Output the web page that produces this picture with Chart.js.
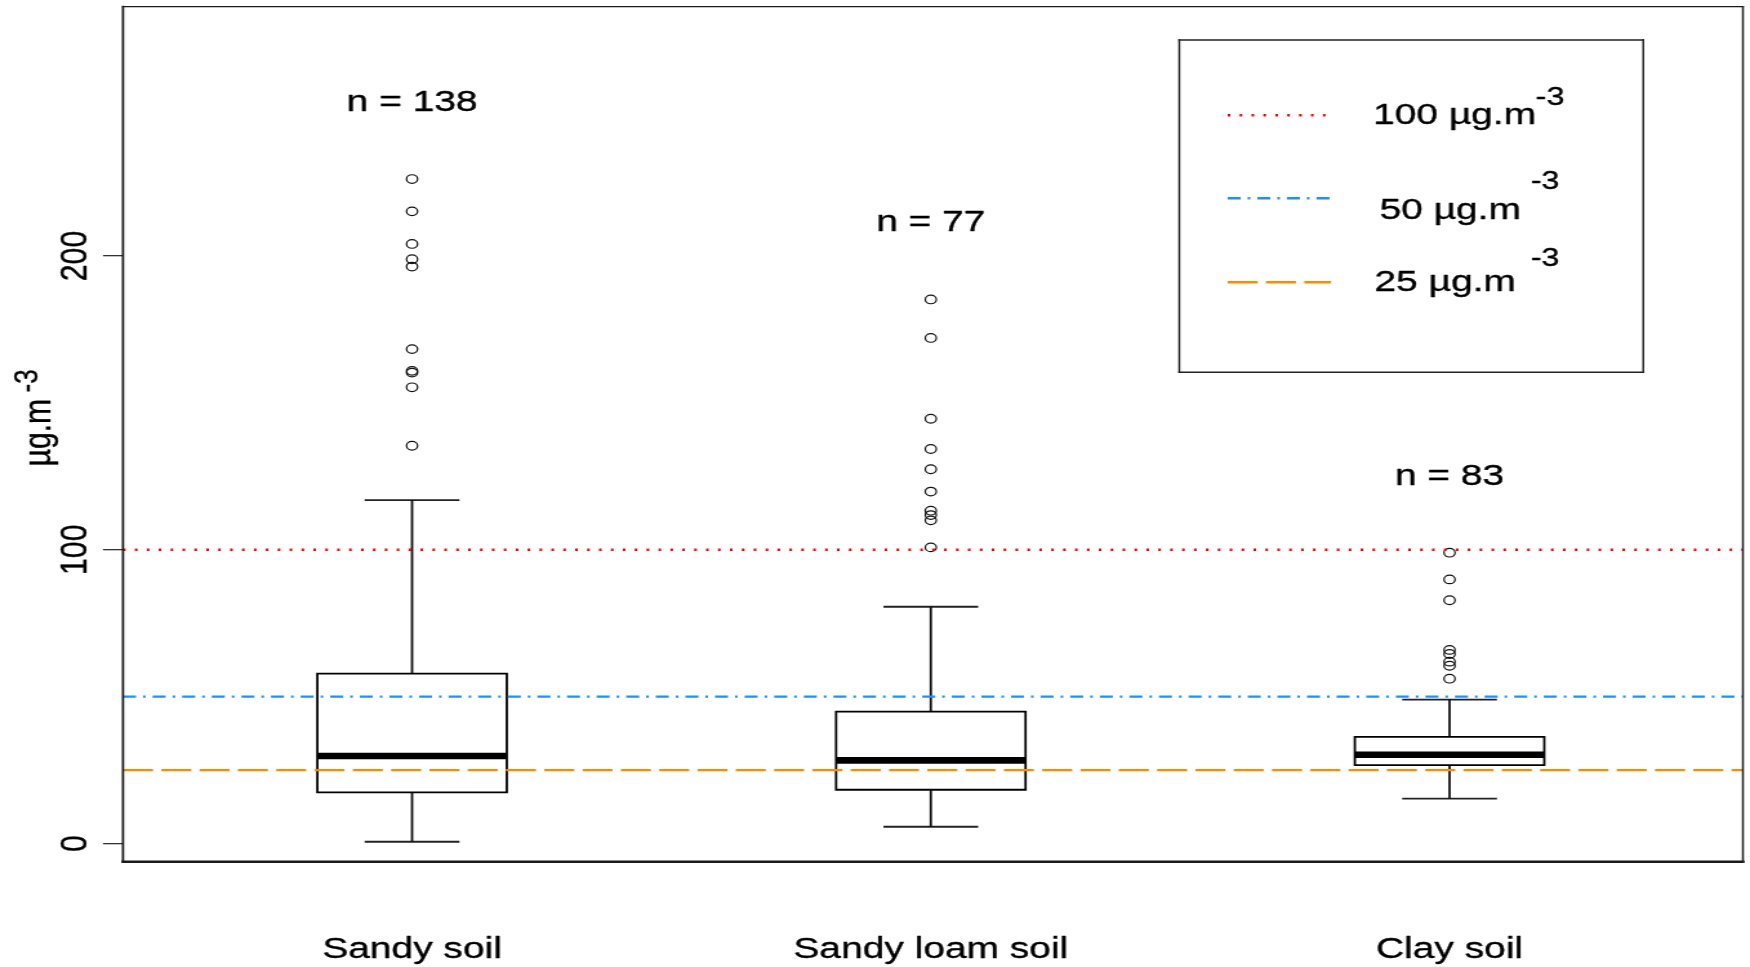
<!DOCTYPE html>
<html>
<head>
<meta charset="utf-8">
<script src="https://cdn.jsdelivr.net/npm/chart.js@4/dist/chart.umd.min.js"></script>
<style>
  html, body { margin: 0; padding: 0; background: #ffffff; }
  #chart { display: block; }
</style>
</head>
<body>
<canvas id="chart" width="1357" height="967" style="width:1750px;height:967px;"></canvas>
<script>
// ---- data -------------------------------------------------------------
const categories   = ["Sandy soil", "Sandy loam soil", "Clay soil"];
const sampleSizes  = [138, 77, 83];
const lowerWhisker = [0.6, 5.7, 15.3];
const q1           = [17.4, 18.3, 26.7];
const median       = [29.8, 28.3, 30.2];
const q3           = [57.8, 44.9, 36.3];
const upperWhisker = [116.9, 80.6, 49.0];
const outliersSandy = [226.2, 215.2, 204.1, 198.9, 196.4, 168.3, 160.9, 160.3, 155.3, 135.4];
const outliersLoam  = [185.2, 172.1, 144.6, 134.3, 127.4, 119.8, 113.3, 111.8, 110.0, 100.8];
const outliersClay  = [99.0, 89.9, 82.8, 65.9, 64.5, 61.9, 60.5, 56.1];
const limitValues  = [100, 50, 25];
const limitLabels  = ["100 µg.m", "50 µg.m", "25 µg.m"];
const unitExponent = "-3";
const yTicks       = [0, 100, 200];
const yTitle       = "µg.m";

// ---- geometry ---------------------------------------------------------
// The canvas is 1357 px wide and shown 1750 px wide, so the whole figure is
// stretched horizontally; px() converts a screen x distance to canvas units.
const CANVAS_W = 1357, CANVAS_H = 967;
const SX = CANVAS_W / 1750;
const px = v => v * SX;
const FONT = '"Liberation Sans", Arial, Helvetica, sans-serif';
const TEXT_SIZE = 30.2;
const X_MIN = 0.4428, X_MAX = 3.5655;
const Y_MIN = -6.2, Y_MAX = 284.87;
const BOX_HALF = 0.1826, CAP_HALF = 0.0913;

const outliers = [outliersSandy, outliersLoam, outliersClay];

const limitStyles = [
  { color: "#f00000", dash: [px(2.6), px(9.3)] },                // dotted
  { color: "#1e90ff", dash: [px(13), px(7), px(2.6), px(7)] },   // dot-dash
  { color: "#ff8a00", dash: [px(30), px(8.3)] }                  // dashed
];

function lineSet(data, color, width, dash, cap) {
  return {
    type: "scatter", data, showLine: true,
    borderColor: color, borderWidth: width, borderDash: dash || [],
    borderCapStyle: cap || "butt", borderJoinStyle: "miter",
    pointRadius: 0, pointHoverRadius: 0, fill: false, tension: 0
  };
}

const datasets = [];

// guideline values across the whole plot
limitValues.forEach((v, k) => {
  datasets.push(lineSet([{ x: X_MIN, y: v }, { x: X_MAX, y: v }],
    limitStyles[k].color, 2.3, limitStyles[k].dash));
});

// one box-and-whisker per soil type
categories.forEach((name, i) => {
  const c = i + 1;
  const L = c - BOX_HALF, R = c + BOX_HALF;
  datasets.push(lineSet([
    { x: L, y: q1[i] }, { x: R, y: q1[i] }, { x: R, y: q3[i] },
    { x: L, y: q3[i] }, { x: L, y: q1[i] }
  ], "#000", 1.8, [], "square"));
  datasets.push(lineSet([{ x: L, y: median[i] }, { x: R, y: median[i] }], "#000", 6.6));
  datasets.push(lineSet([{ x: c, y: q3[i] }, { x: c, y: upperWhisker[i] }], "#111", 1.8));
  datasets.push(lineSet([{ x: c, y: q1[i] }, { x: c, y: lowerWhisker[i] }], "#111", 1.8));
  datasets.push(lineSet([{ x: c - CAP_HALF, y: upperWhisker[i] }, { x: c + CAP_HALF, y: upperWhisker[i] }], "#222", 1.8));
  datasets.push(lineSet([{ x: c - CAP_HALF, y: lowerWhisker[i] }, { x: c + CAP_HALF, y: lowerWhisker[i] }], "#222", 1.8));
  datasets.push({
    type: "scatter",
    data: outliers[i].map(v => ({ x: c, y: v })),
    pointStyle: "circle", pointRadius: 4.3, pointHoverRadius: 4.3,
    pointBorderWidth: 1.2, borderWidth: 1.2,
    pointBorderColor: "#111", borderColor: "#111",
    pointBackgroundColor: "rgba(0,0,0,0)", backgroundColor: "rgba(0,0,0,0)"
  });
});

// ---- frame, text and legend ------------------------------------------
const decorations = {
  id: "decorations",
  afterDraw(chart) {
    const { ctx, chartArea: a } = chart;
    const xs = chart.scales.x, ys = chart.scales.y;
    const ln = (x0, y0, x1, y1, w, color) => {
      ctx.strokeStyle = color || "#1a1a1a";
      ctx.lineWidth = w;
      ctx.beginPath(); ctx.moveTo(x0, y0); ctx.lineTo(x1, y1); ctx.stroke();
    };
    // filled text with a hairline outline so the glyphs read a little heavier
    const text = (s, x, y) => {
      ctx.fillText(s, x, y);
      ctx.lineWidth = 0.35;
      ctx.strokeStyle = "#000";
      ctx.strokeText(s, x, y);
    };
    ctx.save();
    ctx.lineCap = "square";
    ln(a.left, a.top, a.right, a.top, 1.3);
    ln(a.right, a.top, a.right, a.bottom, 1.5);
    ln(a.left, a.bottom, a.right, a.bottom, 2.4);
    ln(a.left, a.top, a.left, a.bottom, 1.8);

    ctx.fillStyle = "#000";
    ctx.font = `${TEXT_SIZE}px ${FONT}`;
    ctx.textBaseline = "alphabetic";
    ctx.lineJoin = "round";

    // sample sizes above each group, and category names below the plot
    ctx.textAlign = "center";
    categories.forEach((name, i) => {
      const cx = xs.getPixelForValue(i + 1);
      const top = Math.max(upperWhisker[i], ...outliers[i]);
      text(`n = ${sampleSizes[i]}`, cx, ys.getPixelForValue(top) - 68);
      text(name, cx, 958);
    });

    // rotated y tick labels
    yTicks.forEach(v => {
      ctx.save();
      ctx.translate(px(87), ys.getPixelForValue(v));
      ctx.rotate(-Math.PI / 2);
      ctx.textAlign = "center";
      text(String(v), 0, 0);
      ctx.restore();
    });

    // y axis title with exponent
    ctx.save();
    ctx.translate(px(50), 466.5);
    ctx.rotate(-Math.PI / 2);
    ctx.textAlign = "left";
    text(yTitle, 0, 0);
    ctx.restore();
    ctx.save();
    ctx.font = `26px ${FONT}`;
    ctx.translate(px(37.3), 392.5);
    ctx.rotate(-Math.PI / 2);
    ctx.textAlign = "left";
    text(unitExponent, 0, 0);
    ctx.restore();

    // legend
    ln(px(1179.3), 40, px(1643.3), 40, 1.5, "#222");
    ln(px(1643.3), 40, px(1643.3), 372.3, 1.5, "#222");
    ln(px(1643.3), 372.3, px(1179.3), 372.3, 1.5, "#222");
    ln(px(1179.3), 372.3, px(1179.3), 40, 1.5, "#222");
    const rows = [
      { y: 115.3, tx: 1373.0, ty: 124.3, ex: 1535.7, ey: 105.0 },
      { y: 198.3, tx: 1379.5, ty: 219.0, ex: 1530.7, ey: 189.0 },
      { y: 282.3, tx: 1374.5, ty: 290.7, ex: 1530.7, ey: 265.7 }
    ];
    ctx.lineCap = "butt";
    limitLabels.forEach((label, k) => {
      const r = rows[k];
      ctx.save();
      ctx.setLineDash(limitStyles[k].dash);
      ln(px(1227.7), r.y, px(1331), r.y, 2.4, limitStyles[k].color);
      ctx.restore();
      ctx.textAlign = "left";
      ctx.font = `${TEXT_SIZE}px ${FONT}`;
      text(label, px(r.tx), r.ty);
      ctx.font = `25px ${FONT}`;
      text(unitExponent, px(r.ex), r.ey);
    });
    ctx.restore();
  }
};

new Chart(document.getElementById("chart"), {
  type: "scatter",
  data: { datasets },
  options: {
    responsive: false,
    animation: false,
    devicePixelRatio: 1,
    layout: { padding: { left: 0, top: 6.7, right: CANVAS_W - px(1744.3), bottom: CANVAS_H - 861.7 } },
    plugins: { legend: { display: false }, tooltip: { enabled: false } },
    events: [],
    scales: {
      x: { type: "linear", min: X_MIN, max: X_MAX, display: false },
      y: {
        type: "linear", min: Y_MIN, max: Y_MAX,
        afterBuildTicks: s => { s.ticks = yTicks.map(v => ({ value: v })); },
        afterFit: s => { s.width = px(123); },
        border: { display: false },
        grid: { drawOnChartArea: false, drawTicks: true, tickLength: px(20), color: "#333", lineWidth: 1.3 },
        ticks: { display: false }
      }
    }
  },
  plugins: [decorations]
});
</script>
</body>
</html>
